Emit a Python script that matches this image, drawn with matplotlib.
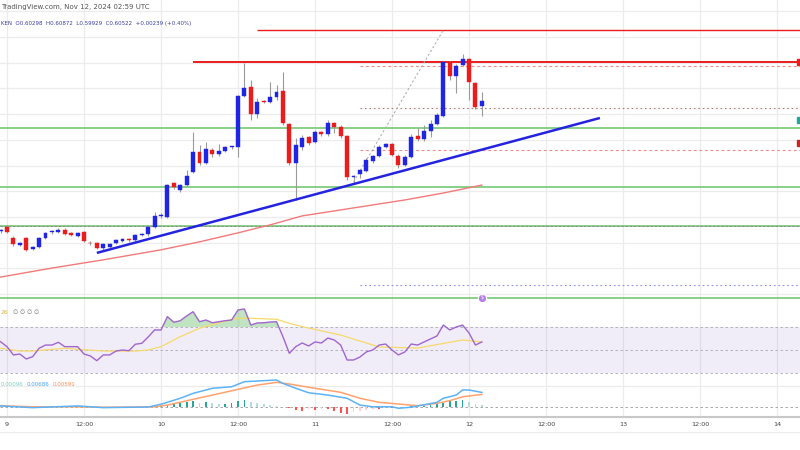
import matplotlib
matplotlib.use("Agg")
import matplotlib.pyplot as plt
import numpy as np
from matplotlib.lines import Line2D
from matplotlib.patches import Rectangle

# ---------------- data (hourly candles, hour 0 = Nov 9 00:00 UTC) ----------------
hours = list(range(-1, 75))
opens = [.5545, .5561, .5518, .5491, .5518, .5475, .5483, .5518, .5542, .5542, .5549, .5538,
         .5526, .5542, .5499, .5499, .5479, .5483, .5499, .5507, .5514, .5510, .5530, .5534,
         .5561, .5604, .5600, .5732, .5705, .5724, .5775, .5853, .5810, .5861, .5845, .5857,
         .5872, .5872, .6071, .6106, .6001, .6051, .6047, .6067, .6090, .5962, .5810, .5872,
         .5911, .5892, .5931, .5923, .5966, .5950, .5915, .5756, .5767, .5779, .5818, .5837,
         .5872, .5884, .5837, .5802, .5833, .5915, .5903, .5934, .5962, .5993, .6203, .6148,
         .6191, .6215, .6121, .60298]
highs = [.5553, .5569, .5526, .5503, .5522, .5487, .5522, .5542, .5549, .5557, .5557, .5542,
         .5542, .5545, .5507, .5503, .5499, .5499, .5514, .5518, .5518, .5534, .5538, .5569,
         .5619, .5615, .5728, .5736, .5728, .5783, .5931, .5880, .5892, .5868, .5884, .5876,
         .5876, .6074, .6199, .6133, .6063, .6055, .6125, .6113, .6164, .5966, .5907, .5919,
         .5915, .5938, .5934, .5977, .5969, .5958, .5919, .5763, .5787, .5829, .5841, .5880,
         .5888, .5888, .5845, .5841, .5923, .5946, .5958, .5977, .6004, .6207, .6207, .6195,
         .6234, .6218, .6125, .60872]
lows = [.5538, .5538, .5487, .5487, .5468, .5472, .5479, .5514, .5534, .5538, .5530, .5526,
        .5522, .5503, .5491, .5475, .5472, .5479, .5495, .5503, .5503, .5507, .5526, .5526,
        .5557, .5596, .5596, .5709, .5697, .5721, .5771, .5802, .5806, .5833, .5837, .5853,
        .5864, .5833, .6067, .5977, .5985, .6043, .6043, .6055, .5958, .5802, .5666, .5861,
        .5880, .5888, .5915, .5915, .5927, .5907, .5744, .5732, .5752, .5775, .5810, .5833,
        .5868, .5837, .5791, .5798, .5829, .5896, .5896, .5911, .5958, .5989, .6133, .6082,
        .6187, .6055, .6020, .59929]
closes = [.5546, .5542, .5495, .5499, .5472, .5483, .5518, .5538, .5543, .5549, .5534, .5530,
          .5538, .5507, .5498, .5479, .5495, .5495, .5510, .5514, .5510, .5530, .5531, .5561,
          .5604, .5605, .5724, .5717, .5724, .5759, .5853, .5810, .5864, .5845, .5857, .5872,
          .5873, .6071, .6102, .6001, .6047, .6047, .6067, .6086, .5966, .5810, .5880, .5907,
          .5888, .5931, .5923, .5966, .5950, .5915, .5756, .5759, .5783, .5822, .5837, .5872,
          .5884, .5841, .5802, .5833, .5911, .5903, .5934, .5962, .5997, .6203, .6148, .6187,
          .6215, .6125, .6028, .60522]

# moving average (red curve)
ma_hours = [-1, 7, 15, 24, 30, 36, 41, 46, 54, 62, 68, 74]
ma_vals = [.5366, .5401, .5433, .5472, .5503, .5538, .5569, .5604, .5635, .5666, .5693, .5724]

# blue trend line
trend_hours = [14, 92.4]
trend_prices = [.5460, .5985]

# dotted measure line
measure_hours = [54, 68]
measure_prices = [.5736, .6327]

# horizontal levels
res_main = .6203; res_main_start = 29
res_top = .6327; res_top_start = 39
green_levels = [.5946, .5717, .5565, .5285]
dash_start = 55
dash_red_levels = [.6187, .5861]
dot_brown_level = .6024
dot_purple_level = .5335

# RSI
rsi_vals = [57.2, 52.9, 45.7, 46.5, 42.2, 44.2, 51.5, 54.3, 54.3, 56.7, 52.9, 52.9,
            52.9, 46.5, 44.8, 40.7, 45.7, 45.7, 49.1, 50.0, 49.4, 55.0, 55.8, 61.3,
            67.4, 67.4, 79.0, 74.1, 75.5, 79.6, 83.3, 74.6, 76.1, 73.7, 74.6, 75.5,
            76.1, 84.8, 85.7, 71.7, 73.5, 73.7, 74.3, 74.6, 61.6, 47.1, 52.9, 56.1,
            53.5, 57.0, 56.1, 60.4, 58.7, 54.3, 41.3, 41.3, 43.9, 48.3, 50.0, 54.3,
            55.2, 50.0, 45.7, 48.3, 55.2, 54.3, 57.0, 59.6, 62.2, 71.7, 67.4, 70.0,
            71.7, 64.8, 54.3, 57.0]
rsi_ma_hours = [-1, 2, 4, 9, 11, 15, 20, 22, 24, 27, 30, 33, 36, 38, 42, 44, 46, 52, 58, 64, 71, 74]
rsi_ma_vals = [51.5, 49.1, 49.1, 51.5, 50.6, 49.1, 49.1, 50.0, 52.9, 61.6, 68.9, 73.7,
               77.6, 77.6, 76.7, 73.2, 70.3, 63.0, 52.6, 51.7, 58.7, 57.0]

# MACD
macd_hours = [-1, 4, 11, 15, 22, 24, 27, 29, 32, 35, 37, 42, 43, 45, 47, 50, 53, 55, 57, 60,
              61, 63, 67, 68, 70, 71, 72, 74]
macd_vals = [0.0005, -0.0003, 0.0005, -0.0003, 0.0, 0.0013, 0.0041, 0.0064, 0.0088, 0.0095,
             0.0119, 0.0127, 0.0111, 0.0088, 0.0067, 0.0056, 0.0041, 0.0009, 0.0001, 0.0001,
             -0.0006, -0.0001, 0.0022, 0.0041, 0.0056, 0.0080, 0.0080, 0.00686]
signal_hours = [-1, 4, 11, 15, 23, 25, 29, 32, 36, 39, 42, 44, 48, 52, 55, 58, 61, 64, 67, 69, 71, 74]
signal_vals = [0.0006, 0.0001, 0.0001, -0.0001, 0.0001, 0.0009, 0.0036, 0.0056, 0.0083, 0.0103,
               0.0116, 0.0108, 0.0088, 0.0069, 0.0041, 0.0022, 0.0014, 0.0006, 0.0017, 0.0030,
               0.0048, 0.00591]
hist_hours = list(range(22, 75))
hist_vals = [0.0001, 0.0002, 0.0005, 0.0009, 0.0014, 0.0019, 0.0024, 0.0028, 0.0019, 0.0024,
             0.0019, 0.0014, 0.0014, 0.0019, 0.0028, 0.0033, 0.0024, 0.0019, 0.0014, 0.0009,
             0.0007, 0.0002, -0.0005, -0.0014, -0.0019, -0.0009, -0.0014, -0.0009, -0.0009,
             -0.0019, -0.0028, -0.0033, -0.0024, -0.0019, -0.0014, -0.0009, -0.0009, -0.0005,
             -0.0005, -0.0002, 0.0001, 0.0005, 0.0002, 0.0005, 0.0012, 0.0014, 0.0021, 0.0026,
             0.0028, 0.0031, 0.0024, 0.0014, 0.00096]

tick_hours = [0, 12, 24, 36, 48, 60, 72, 84, 96, 108, 120]
tick_labels = ["9", "12:00", "10", "12:00", "11", "12:00", "12", "12:00", "13", "12:00", "14"]
price_grid = [0.53, 0.54, 0.55, 0.56, 0.57, 0.58, 0.59, 0.60, 0.61, 0.62, 0.63, 0.64]

header_title = "TradingView.com, Nov 12, 2024 02:59 UTC"
header_ohlc = "KEN  O0.60298  H0.60872  L0.59929  C0.60522  +0.00239 (+0.40%)"
rsi_legend = ["26", "\u2205 \u2205 \u2205 \u2205"]
macd_legend = ["0.00096", "0.00686", "0.00591"]

# ---------------- styling ----------------
BLUE = "#1f25e6"
RED = "#ec1c1c"
GREEN = "#74c874"
GRID = "#ececec"
X0, X1 = -1.09, 123.58

W, H = 800, 450
fig = plt.figure(figsize=(8, 4.5), dpi=100)
fig.patch.set_facecolor("white")

def px_axes(top, bottom):
    return [0, 1 - bottom / H, 1, (bottom - top) / H]

ax = fig.add_axes(px_axes(0, 302))
ax_rsi = fig.add_axes(px_axes(302, 376))
ax_macd = fig.add_axes(px_axes(376, 417))

for a in (ax, ax_rsi, ax_macd):
    a.set_xlim(X0, X1)
    for s in a.spines.values():
        s.set_visible(False)
    a.set_xticks(tick_hours)
    a.tick_params(length=0, labelleft=False, labelbottom=False)
    a.grid(True, axis="x", color=GRID, lw=0.9)
    a.set_axisbelow(True)

# ---- main price pane ----
ax.set_ylim(0.5269, 0.6444)
ax.set_yticks(price_grid)
ax.grid(True, axis="y", color=GRID, lw=0.9)

o = np.array(opens); c = np.array(closes)
hi = np.array(highs); lo = np.array(lows)
up = c >= o
cols = np.where(up, BLUE, RED)
ax.vlines(hours, lo, hi, color="#9a9a9a", lw=0.8, zorder=3)
body = np.maximum(np.abs(c - o), 0.00022)
ax.bar(hours, body, bottom=np.minimum(o, c), width=0.62, color=cols,
       edgecolor=cols, lw=0.3, zorder=4)

ax.hlines(green_levels, X0, X1, color=GREEN, lw=1.2, zorder=2)
ax.hlines(green_levels[2], X0, X1, color="#8a8a8a", lw=0.6, linestyles=(0, (3, 2)), zorder=2)
ax.hlines(res_main, res_main_start, X1, color=RED, lw=1.4, zorder=2)
ax.hlines(res_top, res_top_start, X1, color=RED, lw=1.0, zorder=2)
ax.hlines(dash_red_levels, dash_start, X1, color="#f08a8a", lw=0.8,
          linestyles=(0, (2.5, 2.5)), zorder=2)
ax.hlines(dot_brown_level, dash_start, X1, color="#b07878", lw=0.8,
          linestyles=(0, (1.5, 2.5)), zorder=2)
ax.hlines(dot_purple_level, dash_start, X1, color="#8c8ce8", lw=0.8,
          linestyles=(0, (1.5, 2.5)), zorder=2)

ax.plot(ma_hours, ma_vals, color="#f27a7a", lw=1.0, zorder=3)
ax.plot(measure_hours, measure_prices, color="#b0b0b0", lw=0.8, ls=(0, (2, 2)), zorder=3)
ax.plot(trend_hours, trend_prices, color="#2323e0", lw=1.8, zorder=5, solid_capstyle="butt")

# event marker
ax.plot([hours[-1]], [green_levels[3]], marker="o", ms=6, mfc="#b27ee6", mec="white",
        mew=0.8, zorder=6)
ax.text(hours[-1], green_levels[3], "$", fontsize=3.5, color="white", ha="center",
        va="center", zorder=7)

# right-edge price tags (cut off)
for yy, col in [(res_main, RED), (0.5977, "#26a69a"), (0.5888, "#c62828")]:
    ax.add_patch(Rectangle((X1 - 0.45, yy - 0.0011), 1.0, 0.0022, color=col, zorder=7,
                           clip_on=True))

# ---- RSI pane ----
ax_rsi.set_ylim(27.39, 91.74)
ax_rsi.axhspan(30, 70, color="#7e57c2", alpha=0.10, lw=0)
for lv in (70, 50, 30):
    ax_rsi.axhline(lv, color="#a9a9b4", lw=0.6, ls=(0, (3, 3)))
r = np.array(rsi_vals)
ax_rsi.fill_between(hours, r, 70, where=r > 70, interpolate=True, color="#4caf50",
                    alpha=0.35, lw=0)
ax_rsi.plot(rsi_ma_hours, rsi_ma_vals, color="#f6d96a", lw=0.9, zorder=3)
ax_rsi.plot(hours, rsi_vals, color="#a066cf", lw=1.0, zorder=4)

# ---- MACD pane ----
ax_macd.set_ylim(-0.0047, 0.01457)
ax_macd.set_yticks([0.01])
ax_macd.grid(True, axis="y", color=GRID, lw=0.9)
ax_macd.axhline(0, color="#9a9a9a", lw=0.6, ls=(0, (3, 3)))
hv = np.array(hist_vals)
prev = np.concatenate([[0.0], hv[:-1]])
hcols = []
for v, p in zip(hv, prev):
    if v >= 0:
        hcols.append("#26a69a" if v >= p else "#b2dfdb")
    else:
        hcols.append("#ff5252" if v <= p else "#ffcdd2")
ax_macd.bar(hist_hours, hv, width=0.28, color=hcols, lw=0, zorder=2)
ax_macd.plot(signal_hours, signal_vals, color="#ffa26e", lw=1.1, zorder=3)
ax_macd.plot(macd_hours, macd_vals, color="#5cb3f7", lw=1.1, zorder=4)

ax_macd.spines["bottom"].set_visible(True)
ax_macd.spines["bottom"].set_color("#c8c8c8")
ax_macd.spines["bottom"].set_linewidth(1.5)
ax_macd.set_xticks(tick_hours)
ax_macd.set_xticklabels(tick_labels)
ax_macd.tick_params(axis="x", labelbottom=True, labelsize=4.6, colors="#444444", pad=3.5,
                    length=0)

fig.add_artist(Line2D([0, 1], [1 - 432 / H, 1 - 432 / H], color="#ededed", lw=0.8))

# ---- header / legend texts ----
def fx(px):
    return px / W

def fy(py):
    return 1 - py / H

fig.text(fx(1), fy(7), header_title, fontsize=5.0, color="#555555", va="center", ha="left")
fig.text(fx(1), fy(23), header_ohlc, fontsize=4.0, color="#3a3f9e", va="center", ha="left")

fig.text(fx(1), fy(313), rsi_legend[0], fontsize=4.4, color="#e0b83a", va="center", ha="left")
fig.text(fx(13), fy(313), rsi_legend[1], fontsize=4.2, color="#777777", va="center", ha="left")

fig.text(fx(1), fy(385), macd_legend[0], fontsize=4.0, color="#7fcfbf", va="center", ha="left")
fig.text(fx(27), fy(385), macd_legend[1], fontsize=4.0, color="#42a5f5", va="center", ha="left")
fig.text(fx(53), fy(385), macd_legend[2], fontsize=4.0, color="#ff8a50", va="center", ha="left")

fig.savefig("out.png", dpi=100, facecolor="white")
